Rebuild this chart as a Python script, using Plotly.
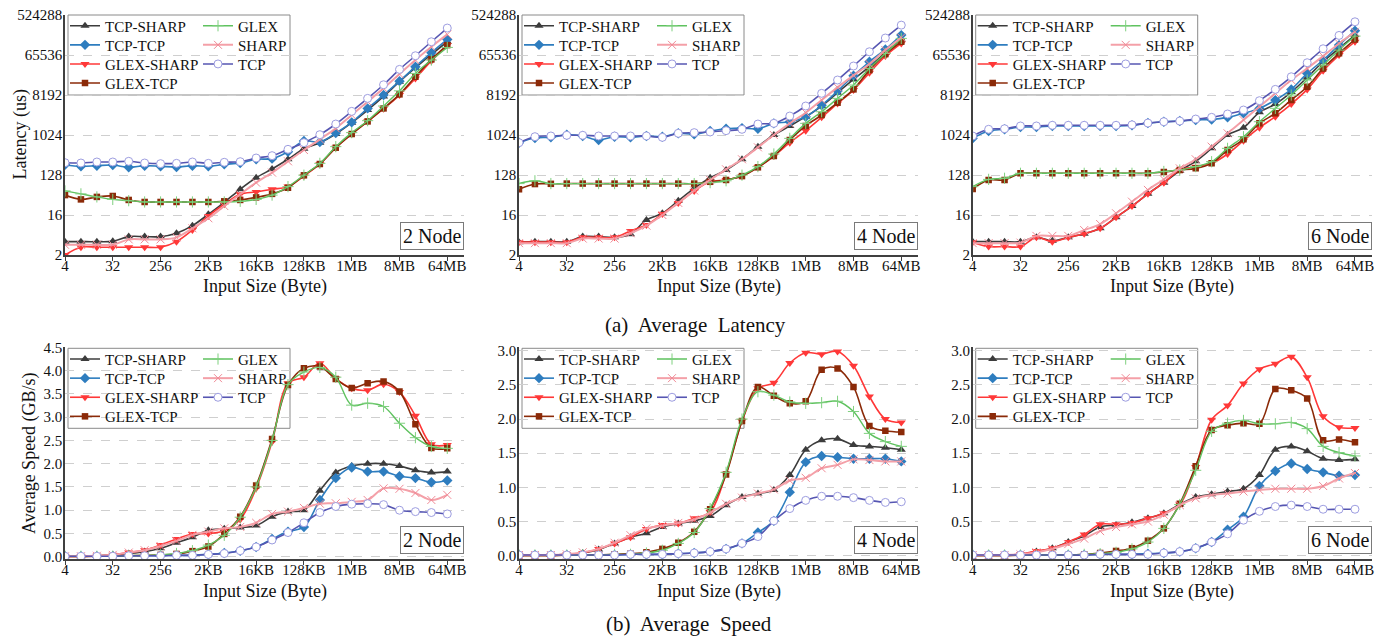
import math
import plotly.graph_objects as go

# ---------------- data ----------------
SIZES = [4, 8, 16, 32, 64, 128, 256, 512, 1024, 2048, 4096, 8192, 16384, 32768, 65536,
         131072, 262144, 524288, 1048576, 2097152, 4194304, 8388608, 16777216, 33554432, 67108864]
X_TICK_VALS = [4, 32, 256, 2048, 16384, 131072, 1048576, 8388608, 67108864]
X_TICK_TEXT = ["4", "32", "256", "2KB", "16KB", "128KB", "1MB", "8MB", "64MB"]
LAT_TICK_VALS = [2, 16, 128, 1024, 8192, 65536, 524288]
SPD_TICK_VALS_2N = [0.0, 0.5, 1.0, 1.5, 2.0, 2.5, 3.0, 3.5, 4.0, 4.5]
SPD_TICK_VALS = [0.0, 0.5, 1.0, 1.5, 2.0, 2.5, 3.0]
SERIES = ["TCP-SHARP", "TCP-TCP", "GLEX-SHARP", "GLEX-TCP", "GLEX", "SHARP", "TCP"]
NODES = ["2 Node", "4 Node", "6 Node"]

# Latency (us)
LAT_2N_TCP_SHARP = [4.0, 4.0, 4.0, 4.1, 5.2, 5.2, 5.2, 6.2, 9.2, 16.6, 31, 61, 111, 175, 290, 503, 688, 1080, 1950, 3760, 7640, 16400, 33900, 67800, 131000]
LAT_2N_TCP_TCP = [219, 201, 208, 215, 191, 208, 201, 194, 208, 201, 223, 239, 290, 300, 430, 750, 713, 1136, 1980, 4096, 8192, 16900, 35800, 74300, 148000]
LAT_2N_GLEX_SHARP = [2.0, 3.0, 3.0, 3.0, 3.0, 3.0, 3.0, 4.0, 7.3, 15.2, 28, 47, 53, 61, 70, 121, 227, 530, 1080, 2080, 4020, 8192, 19500, 48000, 110000]
LAT_2N_GLEX_TCP = [45, 36, 41, 43, 35, 31.5, 31.5, 31.5, 31.5, 31.5, 32.6, 35, 40, 48, 66, 126, 227, 530, 1080, 2080, 4096, 8500, 21200, 52300, 110000]
LAT_2N_GLEX = [56, 48, 41, 36, 33.7, 31.5, 31.5, 31.5, 31.5, 31.5, 31.5, 32.6, 36, 45, 70, 127, 235, 560, 1160, 2160, 4630, 10200, 25200, 50500, 97500]
LAT_2N_SHARP = [3.4, 3.4, 3.4, 3.4, 4.5, 4.5, 4.5, 5.0, 8.0, 13.5, 25.5, 47, 86, 145, 261, 470, 818, 1450, 2900, 5800, 11600, 24400, 50500, 101000, 192000]
LAT_2N_TCP = [243, 239, 252, 252, 261, 239, 231, 235, 252, 235, 248, 256, 310, 350, 487, 688, 1043, 1816, 3510, 6890, 14000, 31100, 63300, 131000, 267000]

LAT_4N_TCP_SHARP = [3.9, 4.0, 4.0, 4.0, 5.2, 5.2, 5.0, 5.9, 12.4, 17.5, 33.7, 64, 111, 166, 290, 560, 1024, 1640, 2660, 4630, 9270, 18500, 35800, 74300, 148000]
LAT_4N_TCP_TCP = [688, 877, 908, 1040, 975, 790, 940, 908, 975, 940, 1120, 1070, 1260, 1420, 1470, 1420, 1880, 2048, 2660, 4800, 10100, 22400, 46300, 88000, 185000]
LAT_4N_GLEX_SHARP = [3.9, 3.9, 3.9, 3.9, 5.0, 5.0, 5.0, 7.0, 9.5, 16.9, 30, 56, 90, 99, 121, 191, 344, 688, 1285, 2570, 5310, 10600, 26000, 62200, 120000]
LAT_4N_GLEX_TCP = [61, 80, 81, 82, 82, 82, 82, 82, 82, 82, 82, 82, 90, 99, 121, 191, 344, 790, 1640, 2900, 5500, 11000, 30000, 69000, 131000]
LAT_4N_GLEX = [82, 95, 82, 82, 82, 82, 82, 82, 82, 82, 82, 82, 86, 95, 127, 198, 382, 861, 1880, 3440, 6890, 13800, 32800, 71600, 156000]
LAT_4N_SHARP = [3.7, 3.7, 3.7, 3.7, 4.7, 4.7, 4.7, 6.2, 9.2, 16, 30, 57, 99, 172, 290, 540, 1024, 1880, 3270, 6340, 12200, 22800, 41100, 85000, 164000]
LAT_4N_TCP = [688, 940, 975, 1010, 1010, 975, 975, 975, 975, 908, 1120, 1160, 1200, 1285, 1380, 1816, 1880, 2750, 4630, 8950, 17900, 37100, 77900, 159000, 311000]

LAT_6N_TCP_SHARP = [4.0, 4.0, 4.0, 4.0, 5.0, 4.2, 5.0, 6.0, 8.0, 14.2, 25.5, 48, 86, 160, 261, 512, 1024, 1500, 3330, 5130, 9580, 20500, 46300, 92700, 185000]
LAT_6N_TCP_TCP = [861, 1260, 1380, 1550, 1550, 1640, 1640, 1640, 1640, 1640, 1700, 1910, 2048, 2120, 2240, 2300, 2570, 3170, 4096, 6300, 11000, 25200, 50500, 110000, 233000]
LAT_6N_GLEX_SHARP = [3.9, 3.1, 3.1, 3.1, 5.0, 4.0, 5.0, 6.0, 8.0, 14.2, 25.5, 48, 86, 166, 198, 235, 382, 765, 1500, 2660, 5130, 11000, 29000, 65500, 131000]
LAT_6N_GLEX_TCP = [62, 99, 99, 140, 140, 140, 140, 140, 140, 140, 140, 140, 150, 166, 181, 235, 470, 818, 1880, 3170, 6340, 12600, 32800, 71600, 148000]
LAT_6N_GLEX = [70, 102, 108, 140, 140, 140, 140, 140, 140, 140, 140, 140, 154, 166, 198, 256, 512, 940, 2048, 4096, 8192, 17900, 39000, 85000, 176000]
LAT_6N_SHARP = [3.7, 3.7, 3.7, 3.8, 5.4, 5.4, 5.4, 7.3, 10, 17.5, 32, 59, 102, 181, 290, 560, 1120, 2240, 4480, 8950, 17900, 32800, 62000, 120000, 220000]
LAT_6N_TCP = [975, 1380, 1420, 1640, 1640, 1700, 1700, 1700, 1700, 1700, 1740, 1910, 2048, 2120, 2350, 2570, 3060, 3760, 6110, 11000, 21200, 44000, 91000, 182000, 370000]

# Average speed (GB/s)
SPD_2N_TCP_SHARP = [0.01, 0.01, 0.02, 0.04, 0.07, 0.11, 0.18, 0.3, 0.42, 0.57, 0.6, 0.63, 0.67, 0.86, 0.97, 1.0, 1.42, 1.81, 1.95, 2.0, 2.0, 1.95, 1.86, 1.81, 1.83]
SPD_2N_TCP_TCP = [0.01, 0.01, 0.01, 0.01, 0.02, 0.02, 0.02, 0.03, 0.03, 0.05, 0.08, 0.13, 0.21, 0.38, 0.54, 0.64, 1.22, 1.69, 1.92, 1.83, 1.83, 1.73, 1.69, 1.6, 1.64]
SPD_2N_GLEX_SHARP = [0.01, 0.01, 0.02, 0.04, 0.09, 0.14, 0.25, 0.38, 0.49, 0.5, 0.56, 0.8, 1.47, 2.47, 3.73, 3.86, 4.16, 3.83, 3.62, 3.58, 3.71, 3.54, 3.03, 2.42, 2.4]
SPD_2N_GLEX_TCP = [0.0, 0.0, 0.01, 0.01, 0.02, 0.03, 0.04, 0.06, 0.12, 0.22, 0.49, 0.86, 1.53, 2.53, 3.69, 4.05, 4.09, 3.82, 3.63, 3.73, 3.77, 3.55, 2.85, 2.34, 2.33]
SPD_2N_GLEX = [0.01, 0.01, 0.01, 0.01, 0.02, 0.03, 0.04, 0.07, 0.13, 0.25, 0.46, 0.85, 1.5, 2.5, 3.7, 3.97, 4.07, 3.86, 3.26, 3.3, 3.23, 2.87, 2.56, 2.37, 2.33]
SPD_2N_SHARP = [0.01, 0.01, 0.02, 0.04, 0.09, 0.14, 0.23, 0.34, 0.47, 0.54, 0.61, 0.64, 0.73, 0.92, 0.97, 1.05, 1.14, 1.15, 1.18, 1.22, 1.47, 1.46, 1.37, 1.22, 1.33]
SPD_2N_TCP = [0.01, 0.01, 0.01, 0.01, 0.02, 0.02, 0.02, 0.03, 0.03, 0.05, 0.07, 0.13, 0.21, 0.36, 0.52, 0.73, 0.95, 1.08, 1.13, 1.14, 1.12, 1.0, 0.97, 0.95, 0.92]

SPD_4N_TCP_SHARP = [0.01, 0.01, 0.01, 0.02, 0.04, 0.09, 0.18, 0.27, 0.33, 0.42, 0.47, 0.51, 0.58, 0.74, 0.86, 0.91, 0.96, 1.18, 1.55, 1.69, 1.71, 1.62, 1.6, 1.58, 1.55]
SPD_4N_TCP_TCP = [0.01, 0.01, 0.01, 0.01, 0.01, 0.01, 0.01, 0.02, 0.02, 0.02, 0.03, 0.04, 0.06, 0.1, 0.18, 0.34, 0.51, 0.93, 1.37, 1.46, 1.44, 1.42, 1.42, 1.42, 1.38]
SPD_4N_GLEX_SHARP = [0.01, 0.01, 0.01, 0.02, 0.04, 0.1, 0.18, 0.27, 0.39, 0.45, 0.47, 0.55, 0.64, 1.2, 1.97, 2.45, 2.53, 2.82, 2.97, 2.95, 2.99, 2.78, 2.33, 2.0, 1.95]
SPD_4N_GLEX_TCP = [0.0, 0.0, 0.0, 0.01, 0.01, 0.01, 0.02, 0.03, 0.05, 0.1, 0.19, 0.35, 0.68, 1.19, 1.97, 2.47, 2.34, 2.23, 2.26, 2.72, 2.74, 2.47, 1.9, 1.83, 1.81]
SPD_4N_GLEX = [0.01, 0.01, 0.01, 0.01, 0.01, 0.01, 0.02, 0.02, 0.04, 0.08, 0.18, 0.34, 0.69, 1.22, 2.0, 2.4, 2.35, 2.25, 2.23, 2.24, 2.26, 2.11, 1.79, 1.67, 1.6]
SPD_4N_SHARP = [0.01, 0.01, 0.01, 0.02, 0.05, 0.1, 0.19, 0.3, 0.4, 0.44, 0.48, 0.53, 0.63, 0.76, 0.85, 0.91, 0.97, 1.1, 1.14, 1.28, 1.33, 1.41, 1.4, 1.38, 1.38]
SPD_4N_TCP = [0.01, 0.01, 0.01, 0.01, 0.01, 0.01, 0.01, 0.02, 0.02, 0.02, 0.03, 0.04, 0.06, 0.1, 0.18, 0.28, 0.51, 0.69, 0.81, 0.87, 0.87, 0.85, 0.81, 0.78, 0.79]

SPD_6N_TCP_SHARP = [0.01, 0.01, 0.01, 0.02, 0.06, 0.11, 0.2, 0.29, 0.42, 0.45, 0.49, 0.55, 0.62, 0.75, 0.86, 0.9, 0.94, 0.98, 1.18, 1.55, 1.6, 1.53, 1.42, 1.4, 1.41]
SPD_6N_TCP_TCP = [0.01, 0.01, 0.01, 0.01, 0.01, 0.01, 0.01, 0.01, 0.02, 0.02, 0.02, 0.03, 0.04, 0.06, 0.11, 0.2, 0.38, 0.57, 1.02, 1.24, 1.35, 1.27, 1.22, 1.17, 1.18]
SPD_6N_GLEX_SHARP = [0.01, 0.01, 0.01, 0.02, 0.07, 0.11, 0.2, 0.31, 0.46, 0.46, 0.48, 0.55, 0.62, 0.75, 1.3, 1.99, 2.2, 2.52, 2.73, 2.81, 2.91, 2.61, 2.04, 1.88, 1.87]
SPD_6N_GLEX_TCP = [0.0, 0.0, 0.0, 0.01, 0.01, 0.01, 0.01, 0.02, 0.04, 0.07, 0.11, 0.22, 0.4, 0.76, 1.31, 1.84, 1.91, 1.94, 1.93, 2.44, 2.42, 2.3, 1.69, 1.7, 1.66]
SPD_6N_GLEX = [0.01, 0.01, 0.01, 0.01, 0.01, 0.01, 0.01, 0.02, 0.03, 0.05, 0.1, 0.2, 0.4, 0.75, 1.25, 1.82, 1.94, 1.98, 1.93, 1.93, 1.95, 1.86, 1.6, 1.51, 1.46]
SPD_6N_SHARP = [0.01, 0.01, 0.01, 0.02, 0.05, 0.1, 0.17, 0.25, 0.36, 0.42, 0.46, 0.5, 0.6, 0.74, 0.84, 0.89, 0.91, 0.94, 0.96, 0.98, 0.98, 0.98, 1.02, 1.13, 1.21]
SPD_6N_TCP = [0.01, 0.01, 0.01, 0.01, 0.01, 0.01, 0.01, 0.01, 0.02, 0.02, 0.02, 0.02, 0.04, 0.06, 0.11, 0.2, 0.32, 0.52, 0.65, 0.72, 0.74, 0.72, 0.68, 0.68, 0.68]

LATENCY = {
    "2 Node": dict(zip(SERIES, [LAT_2N_TCP_SHARP, LAT_2N_TCP_TCP, LAT_2N_GLEX_SHARP, LAT_2N_GLEX_TCP, LAT_2N_GLEX, LAT_2N_SHARP, LAT_2N_TCP])),
    "4 Node": dict(zip(SERIES, [LAT_4N_TCP_SHARP, LAT_4N_TCP_TCP, LAT_4N_GLEX_SHARP, LAT_4N_GLEX_TCP, LAT_4N_GLEX, LAT_4N_SHARP, LAT_4N_TCP])),
    "6 Node": dict(zip(SERIES, [LAT_6N_TCP_SHARP, LAT_6N_TCP_TCP, LAT_6N_GLEX_SHARP, LAT_6N_GLEX_TCP, LAT_6N_GLEX, LAT_6N_SHARP, LAT_6N_TCP])),
}
SPEED = {
    "2 Node": dict(zip(SERIES, [SPD_2N_TCP_SHARP, SPD_2N_TCP_TCP, SPD_2N_GLEX_SHARP, SPD_2N_GLEX_TCP, SPD_2N_GLEX, SPD_2N_SHARP, SPD_2N_TCP])),
    "4 Node": dict(zip(SERIES, [SPD_4N_TCP_SHARP, SPD_4N_TCP_TCP, SPD_4N_GLEX_SHARP, SPD_4N_GLEX_TCP, SPD_4N_GLEX, SPD_4N_SHARP, SPD_4N_TCP])),
    "6 Node": dict(zip(SERIES, [SPD_6N_TCP_SHARP, SPD_6N_TCP_TCP, SPD_6N_GLEX_SHARP, SPD_6N_GLEX_TCP, SPD_6N_GLEX, SPD_6N_SHARP, SPD_6N_TCP])),
}

# ---------------- styles / geometry ----------------
PAGE_OFF = 8                      # the page body adds an 8 px margin around the figure
W, H = 1390 - PAGE_OFF, 637 - PAGE_OFF
FONT = "Liberation Serif, Times New Roman, Tinos, DejaVu Serif, serif"
TXT = "#111111"
AXIS_COLOR = "#404040"
GRID_COLOR = "#cfcfcf"


def fx(px):   # screen x (px) -> paper fraction
    return (px - PAGE_OFF) / W


def fy(py):   # screen y (px) -> paper fraction
    return 1 - (py - PAGE_OFF) / H


STYLE = {
    "TCP-SHARP": dict(line=dict(color="#3c3c3c", width=1.6),
                      marker=dict(symbol="triangle-up", size=8, color="#3c3c3c")),
    "TCP-TCP": dict(line=dict(color="#2e7dbf", width=1.6),
                    marker=dict(symbol="diamond", size=8, color="#2e7dbf")),
    "GLEX-SHARP": dict(line=dict(color="#ff3838", width=1.6),
                       marker=dict(symbol="triangle-down", size=8, color="#ff3838")),
    "GLEX-TCP": dict(line=dict(color="#8b2a08", width=1.6),
                     marker=dict(symbol="square", size=6.5, color="#8b2a08")),
    "GLEX": dict(line=dict(color="#5fc25f", width=1.4),
                 marker=dict(symbol="cross-thin", size=8, color="#5fc25f",
                             line=dict(color="#7fd07f", width=1))),
    "SHARP": dict(line=dict(color="#f4a0a8", width=2),
                  marker=dict(symbol="x-thin", size=8, color="#f08a96",
                              line=dict(color="#f08a96", width=1))),
    "TCP": dict(line=dict(color="#5656b2", width=1.6),
                marker=dict(symbol="circle", size=8, color="white",
                            line=dict(color="#9d9de0", width=1))),
}
COL1 = ["TCP-SHARP", "TCP-TCP", "GLEX-SHARP", "GLEX-TCP"]

X_DOM_PX = [(65, 464), (519, 918), (972.7, 1371.7)]   # screen px
ROW_PX = [(15, 255), (347.3, 559)]                    # screen px
LEG_ROW0 = 11.5       # first legend row centre below the box top (px)
LEG_DY = 19.1         # legend row spacing (px)
LEG_C = 17.0          # legend item centre offset from legend top (px)

fig = go.Figure()
layout = dict(
    template="none",
    width=W, height=H, margin=dict(l=0, r=0, t=0, b=0, pad=0, autoexpand=False),
    paper_bgcolor="white", plot_bgcolor="white",
    font=dict(family=FONT, size=15, color=TXT),
    annotations=[], shapes=[], showlegend=True,
)

leg_idx = 0
for row, data in enumerate([LATENCY, SPEED]):
    for col, node in enumerate(NODES):
        p = row * 3 + col
        sfx = "" if p == 0 else str(p + 1)
        xl, xr = X_DOM_PX[col]
        yt, yb = ROW_PX[row]
        box_l = xl + 3
        box_t = yt if row == 0 else yt + 1
        for s in SERIES:
            leg_idx += 1
            lname = "legend" if leg_idx == 1 else f"legend{leg_idx}"
            st = STYLE[s]
            fig.add_trace(go.Scatter(
                x=SIZES, y=data[node][s], name=s, mode="lines+markers",
                xaxis="x" + sfx, yaxis="y" + sfx, legend=lname,
                line=dict(shape="spline", smoothing=1.0, **st["line"]),
                marker=st["marker"],
            ))
            if s in COL1:
                r = COL1.index(s)
                lx = box_l - 3
            else:
                r = SERIES.index(s) - 4
                lx = box_l + 130
            cy = box_t + LEG_ROW0 + LEG_DY * r
            layout[lname] = dict(
                x=fx(lx), y=fy(cy - LEG_C), xref="paper", yref="paper",
                xanchor="left", yanchor="top", bgcolor="rgba(0,0,0,0)",
                borderwidth=0, font=dict(family=FONT, size=15, color=TXT),
                itemwidth=30, tracegroupgap=0,
            )
        tickfont = dict(family=FONT, size=15, color=TXT)
        layout["xaxis" + sfx] = dict(
            domain=[fx(xl), fx(xr)], anchor="y" + sfx, type="log", automargin=False,
            range=[math.log10(4), 27.05 * math.log10(2)],
            tickmode="array", tickvals=X_TICK_VALS, ticktext=X_TICK_TEXT,
            ticks="outside", ticklen=4, tickcolor=AXIS_COLOR, tickwidth=1.2,
            ticklabelstandoff=-8, ticklabeloverflow="allow",
            showline=True, linecolor=AXIS_COLOR, linewidth=1.5,
            showgrid=False, zeroline=False, tickfont=tickfont,
        )
        ydict = dict(
            domain=[fy(yb), fy(yt)], anchor="x" + sfx, automargin=False,
            showline=True, linecolor=AXIS_COLOR, linewidth=1.5,
            showgrid=True, gridcolor=GRID_COLOR, gridwidth=1, griddash="dash",
            zeroline=False, ticks="", tickfont=tickfont, ticklabelstandoff=-2,
            ticklabeloverflow="allow",
        )
        if row == 0:
            ydict.update(type="log", range=[math.log10(2) - 0.0005, math.log10(524288) + 0.002],
                         tickmode="array", tickvals=LAT_TICK_VALS,
                         ticktext=[str(v) for v in LAT_TICK_VALS])
        elif col == 0:
            ydict.update(range=[-0.049, 4.503], tickmode="array",
                         tickvals=SPD_TICK_VALS_2N, ticktext=[f"{v:.1f}" for v in SPD_TICK_VALS_2N])
        else:
            ydict.update(range=[-0.048, 3.05], tickmode="array",
                         tickvals=SPD_TICK_VALS, ticktext=[f"{v:.1f}" for v in SPD_TICK_VALS])
        layout["yaxis" + sfx] = ydict

        # legend frame
        dw = xr - xl
        dh = yb - yt
        box_r = box_l + 222
        box_b = box_t + 80
        layout["shapes"].append(dict(
            type="rect", xref="x" + sfx + " domain", yref="y" + sfx + " domain",
            x0=(box_l - xl) / dw, x1=(box_r - xl) / dw,
            y0=1 - (box_b - yt) / dh, y1=1 - (box_t - yt) / dh,
            line=dict(color="#8a8a8a", width=1), fillcolor="white", layer="below",
        ))
        # node label box
        layout["annotations"].append(dict(
            text=node, xref="x" + sfx + " domain", yref="y" + sfx + " domain",
            x=1.0, y=0.0, xanchor="right", yanchor="bottom", yshift=5,
            showarrow=False, font=dict(family=FONT, size=20, color=TXT),
            bordercolor="#7a7a7a", borderwidth=1, borderpad=2, bgcolor="white",
        ))
        # x axis title
        layout["annotations"].append(dict(
            text="Input Size (Byte)", xref="paper", yref="paper",
            x=fx((xl + xr) / 2), y=fy(yb + 32), xanchor="center", yanchor="middle",
            showarrow=False, font=dict(family=FONT, size=18, color=TXT),
        ))

# y axis titles
layout["annotations"].append(dict(
    text="Latency (us)", xref="paper", yref="paper", x=0.0, y=fy(135),
    xanchor="left", yanchor="middle", textangle=-90, showarrow=False,
    font=dict(family=FONT, size=18, color=TXT)))
layout["annotations"].append(dict(
    text="Average Speed (GB/s)", xref="paper", yref="paper", x=fx(29), y=fy(453),
    xanchor="center", yanchor="middle", textangle=-90, showarrow=False,
    font=dict(family=FONT, size=18, color=TXT)))
# captions
layout["annotations"].append(dict(
    text="(a)  Average  Latency", xref="paper", yref="paper", x=fx(695), y=fy(325),
    xanchor="center", yanchor="middle", showarrow=False,
    font=dict(family=FONT, size=21, color=TXT)))
layout["annotations"].append(dict(
    text="(b)  Average  Speed", xref="paper", yref="paper", x=fx(689), y=fy(624),
    xanchor="center", yanchor="middle", showarrow=False,
    font=dict(family=FONT, size=21, color=TXT)))

fig.update_layout(**layout)
fig.write_html("out.html")
